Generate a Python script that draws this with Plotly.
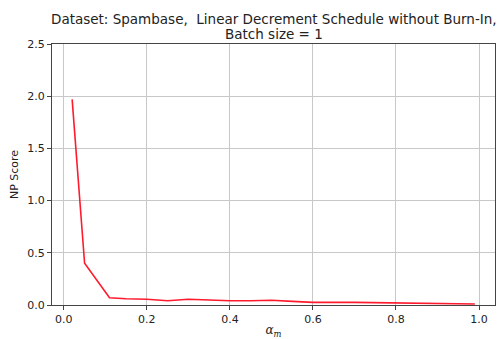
import plotly.graph_objects as go

alpha_m = [0.02, 0.05, 0.11, 0.15, 0.2, 0.25, 0.3, 0.35, 0.4, 0.45, 0.5, 0.55, 0.6, 0.7, 0.8, 0.9, 0.99]
np_score = [1.97, 0.40, 0.07, 0.06, 0.055, 0.04, 0.055, 0.045, 0.04, 0.04, 0.045, 0.035, 0.025, 0.025, 0.02, 0.015, 0.01]

x_ticks = [0.0, 0.2, 0.4, 0.6, 0.8, 1.0]
x_labels = ["0.0", "0.2", "0.4", "0.6", "0.8", "1.0"]
y_ticks = [0.0, 0.5, 1.0, 1.5, 2.0, 2.5]
y_labels = ["0.0", "0.5", "1.0", "1.5", "2.0", "2.5"]
title_lines = ["Dataset: Spambase,  Linear Decrement Schedule without Burn-In,", "Batch size = 1"]

fig = go.Figure()
fig.add_trace(go.Scatter(x=alpha_m, y=np_score, mode="lines",
                         line=dict(color="#ff1a2e", width=1.6)))

axis_common = dict(showgrid=True, gridcolor="#c8c8c8", gridwidth=1,
                   showline=True, linecolor="#444", linewidth=1, mirror=True,
                   ticks="outside", ticklen=4, tickcolor="#444", automargin=False,
                   zeroline=False, tickfont=dict(family="DejaVu Sans", size=11, color="#222"))

fig.update_layout(
    width=500, height=339,
    margin=dict(l=52, r=5, t=44, b=34),
    plot_bgcolor="white", paper_bgcolor="white",
    showlegend=False,
    xaxis=dict(range=[-0.0285, 1.0385], tickvals=x_ticks, ticktext=x_labels,
               title=dict(text="<i>α<sub>m</sub></i>", standoff=2,
                          font=dict(family="DejaVu Serif", size=12, color="#222")),
               **axis_common),
    yaxis=dict(range=[0, 2.5], tickvals=y_ticks, ticktext=y_labels,
               title=dict(text="NP Score", standoff=6,
                          font=dict(family="DejaVu Sans", size=11, color="#222")),
               **axis_common),
)

fig.add_annotation(text=title_lines[0], xref="paper", yref="paper", x=0.5, y=1.0,
                   yshift=25, showarrow=False, xanchor="center", yanchor="middle",
                   font=dict(family="DejaVu Sans", size=13.5, color="#222"))
fig.add_annotation(text=title_lines[1], xref="paper", yref="paper", x=0.5, y=1.0,
                   yshift=10, showarrow=False, xanchor="center", yanchor="middle",
                   font=dict(family="DejaVu Sans", size=13.5, color="#222"))

fig.write_html("out.html")
